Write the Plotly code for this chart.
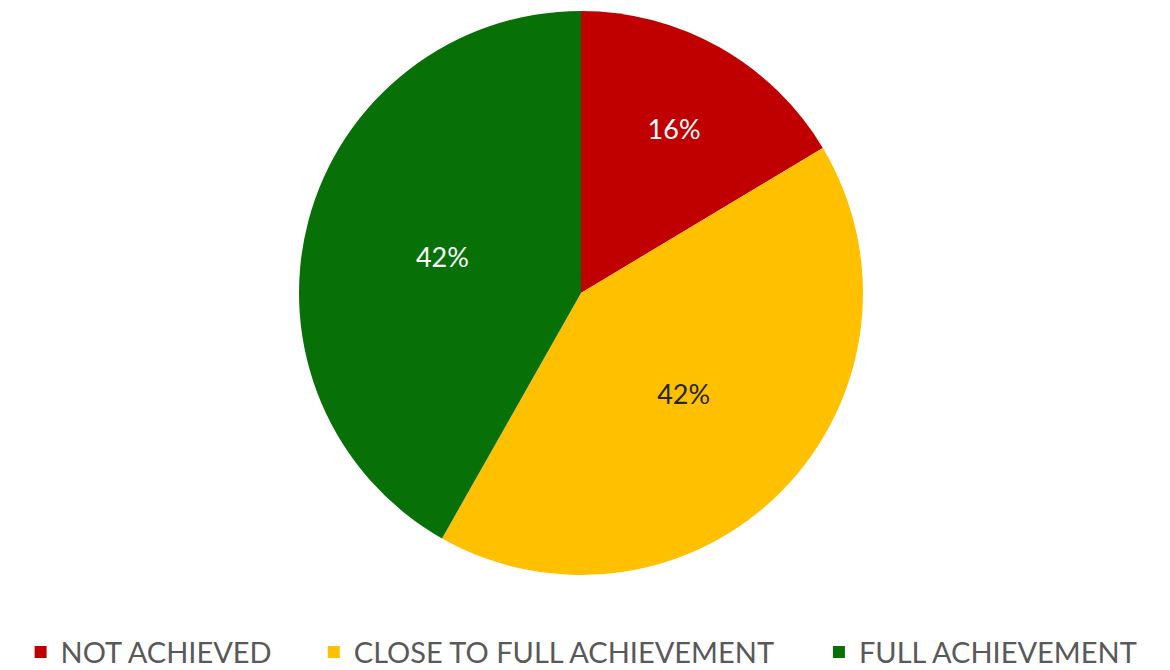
import plotly.graph_objects as go

categories = ["NOT ACHIEVED", "CLOSE TO FULL ACHIEVEMENT", "FULL ACHIEVEMENT"]
values = [16.4, 41.8, 41.8]
colors = ["#C00000", "#FFC000", "#077107"]
text_colors = ["#FFFFFF", "#262626", "#FFFFFF"]

FONT = "Lato, Open Sans, sans-serif"
pads = ["\u00a0" * 5, "\u00a0" * 5 + "\u2009", ""]
legend_names = [c + p for c, p in zip(categories, pads)]

fig = go.Figure(go.Pie(
    labels=legend_names,
    values=values,
    sort=False,
    direction="clockwise",
    rotation=0,
    marker=dict(colors=colors, line=dict(width=0)),
    texttemplate="%{percent:.0%}",
    textposition="inside",
    insidetextorientation="horizontal",
    insidetextfont=dict(color=text_colors, size=27, family=FONT),
    hoverinfo="label+percent",
))

fig.update_layout(
    width=1170, height=670,
    paper_bgcolor="white", plot_bgcolor="white",
    margin=dict(l=0, r=24, t=3, b=95),
    showlegend=True,
    legend=dict(
        orientation="h", x=0.011, xanchor="left", y=-0.137, yanchor="middle",
        font=dict(size=29, color="#595959", family=FONT),
        traceorder="normal",
    ),
)

fig.write_html("out.html")
